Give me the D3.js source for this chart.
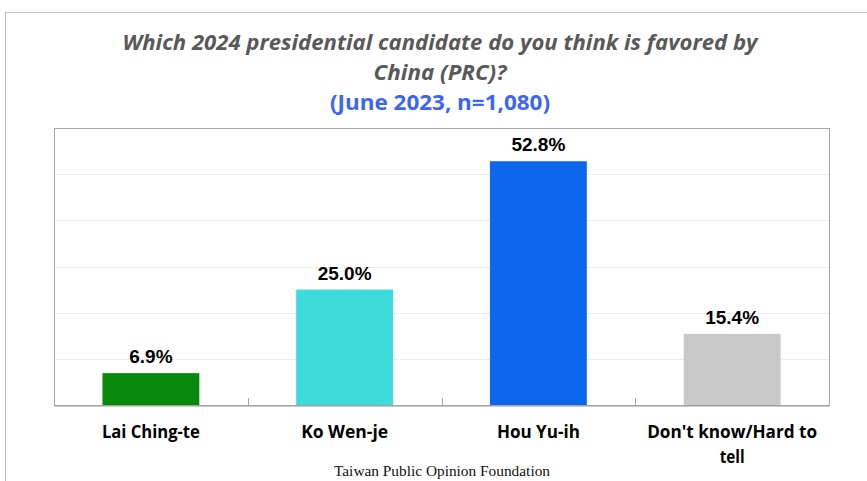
<!DOCTYPE html>
<html><head><meta charset="utf-8">
<script src="https://cdn.jsdelivr.net/npm/d3@7"></script>
<style>body{margin:0;background:#fff;} svg{display:block;}</style>
</head><body>
<svg id="c" width="867" height="481"></svg>
<script>
const categories = ["Lai Ching-te", "Ko Wen-je", "Hou Yu-ih", "Don't know/Hard to tell"];
const labelLines = [["Lai Ching-te"], ["Ko Wen-je"], ["Hou Yu-ih"], ["Don't know/Hard to", "tell"]];
const values = [6.9, 25.0, 52.8, 15.4];
const colors = ["#07890b", "#3ddbdc", "#0b66ee", "#c8c8c8"];
const yTicks = [0, 10, 20, 30, 40, 50, 60];
const titleLines = ["Which 2024 presidential candidate do you think is favored by", "China (PRC)?"];
const subtitle = "(June 2023, n=1,080)";
const footer = "Taiwan Public Opinion Foundation";

const svg = d3.select("#c");
const m = {left: 54, right: 829, top: 128, bottom: 405};

// outer frame
svg.append("rect").attr("x", 5.5).attr("y", 12.5).attr("width", 900).attr("height", 600)
  .attr("fill", "none").attr("stroke", "#bfbfbf").attr("stroke-width", 1);

const x = d3.scaleBand().domain(categories).range([m.left, m.right]).paddingInner(0).paddingOuter(0);
const y = d3.scaleLinear().domain([0, 60]).range([m.bottom, m.top]);

// gridlines
svg.append("g").selectAll("line").data(yTicks.slice(1, -1)).join("line")
  .attr("x1", m.left).attr("x2", m.right)
  .attr("y1", d => Math.round(y(d)) + 0.5).attr("y2", d => Math.round(y(d)) + 0.5)
  .attr("stroke", "#dcdcdc").attr("stroke-width", 1).attr("stroke-dasharray", "1,1");

// bars
const bw = x.bandwidth();
svg.append("g").selectAll("rect").data(values).join("rect")
  .attr("x", (d, i) => x(categories[i]) + bw * 0.25)
  .attr("width", bw * 0.5)
  .attr("y", d => y(d))
  .attr("height", d => y(0) - y(d))
  .attr("fill", (d, i) => colors[i]);

// plot border
svg.append("rect").attr("x", m.left + 0.5).attr("y", m.top + 0.5)
  .attr("width", m.right - m.left).attr("height", m.bottom - m.top)
  .attr("fill", "none").attr("stroke", "#a6a6a6").attr("stroke-width", 1);

// bottom axis with inward ticks at category boundaries
const xb = d3.axisBottom(x).tickSize(0).tickFormat("");
const axisG = svg.append("g").attr("transform", `translate(0,${m.bottom + 0.5})`).call(xb);
axisG.select(".domain").attr("stroke", "#9a9a9a").attr("stroke-width", 1.2);
axisG.selectAll(".tick").remove();
svg.append("g").selectAll("line").data(categories.slice(1)).join("line")
  .attr("x1", d => Math.round(x(d)) + 0.5).attr("x2", d => Math.round(x(d)) + 0.5)
  .attr("y1", m.bottom).attr("y2", m.bottom - 7)
  .attr("stroke", "#a6a6a6").attr("stroke-width", 1);

// value labels
svg.append("g").selectAll("text").data(values).join("text")
  .attr("x", (d, i) => x(categories[i]) + bw / 2)
  .attr("y", d => y(d) - 10)
  .attr("text-anchor", "middle")
  .attr("font-family", "Liberation Sans, Arial, sans-serif")
  .attr("font-weight", "bold").attr("font-size", 19).attr("fill", "#000")
  .text(d => d.toFixed(1) + "%");

// x labels
const lblWidths = [[98], [87], [83], [170, 25]];
const lg = svg.append("g");
labelLines.forEach((lines, i) => {
  lines.forEach((ln, j) => {
    lg.append("text")
      .attr("x", x(categories[i]) + bw / 2)
      .attr("y", 438 + j * 25)
      .attr("text-anchor", "middle")
      .attr("font-family", "Open Sans, sans-serif")
      .attr("font-weight", "bold").attr("font-size", 18).attr("fill", "#000")
      .attr("textLength", lblWidths[i][j]).attr("lengthAdjust", "spacingAndGlyphs")
      .text(ln);
  });
});

// titles
const cx = 440;
const tWidths = [635, 133];
titleLines.forEach((t, i) => {
  svg.append("text").attr("x", cx).attr("y", 50 + i * 30)
    .attr("text-anchor", "middle")
    .attr("font-family", "Open Sans, sans-serif")
    .attr("font-style", "italic").attr("font-weight", "bold")
    .attr("font-size", 21).attr("fill", "#595959")
    .attr("textLength", tWidths[i]).attr("lengthAdjust", "spacingAndGlyphs")
    .text(t);
});
svg.append("text").attr("x", cx).attr("y", 110)
  .attr("text-anchor", "middle")
  .attr("font-family", "Open Sans, sans-serif")
  .attr("font-weight", "bold").attr("font-size", 21).attr("fill", "#3b66f2")
  .attr("textLength", 220).attr("lengthAdjust", "spacingAndGlyphs")
  .text(subtitle);

// footer
svg.append("text").attr("x", 442).attr("y", 476)
  .attr("text-anchor", "middle")
  .attr("font-family", "Liberation Serif, Times New Roman, serif")
  .attr("font-size", 14).attr("fill", "#111")
  .attr("textLength", 216).attr("lengthAdjust", "spacingAndGlyphs")
  .text(footer);
</script>
</body></html>
